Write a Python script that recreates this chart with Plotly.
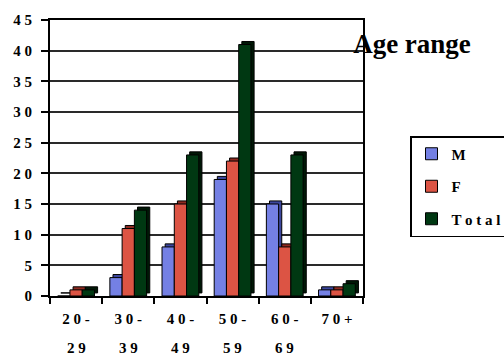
import plotly.graph_objects as go

# Respondents by age range
age_groups = ["20-29", "30-39", "40-49", "50-59", "60-69", "70+"]
label_line1 = ["2 0 -", "3 0 -", "4 0 -", "5 0 -", "6 0 -", "7 0 +"]
label_line2 = ["2 9", "3 9", "4 9", "5 9", "6 9", ""]

male = [0, 3, 8, 19, 15, 1]
female = [1, 11, 15, 22, 8, 1]
total = [1, 14, 23, 41, 23, 2]

y_tick_vals = [0, 5, 10, 15, 20, 25, 30, 35, 40, 45]
y_tick_text = ["0", "5", "1 0", "1 5", "2 0", "2 5", "3 0", "3 5", "4 0", "4 5"]

series = [
    ("M", male, "#7480E4", "#3C479E"),
    ("F", female, "#DC5444", "#8E2A20"),
    ("T o t a l", total, "#003812", "#001806"),
]

FONT = "Liberation Serif"
BAR_W = 0.235
OFFSETS = [-0.3525, -0.1175, 0.1175]
DEPTH_X = 0.06   # category units
DEPTH_Y = 0.5    # value units

fig = go.Figure()

# extruded back faces, drawn first so the front faces sit on top
for (name, vals, front, side), off in zip(series, OFFSETS):
    fig.add_trace(go.Bar(
        x=age_groups, y=vals, base=DEPTH_Y,
        offset=off + DEPTH_X, width=BAR_W,
        marker=dict(color=side, line=dict(color="black", width=1)),
        showlegend=False, hoverinfo="skip",
    ))

# front faces
for (name, vals, front, side), off in zip(series, OFFSETS):
    fig.add_trace(go.Bar(
        x=age_groups, y=vals, name=name, legendgroup=name,
        offset=off, width=BAR_W,
        marker=dict(color=front, line=dict(color="black", width=1)),
    ))

# second line of each age-range label
for g, txt in zip(age_groups, label_line2):
    fig.add_annotation(
        x=g, xref="x", y=0, yref="paper", yshift=-52,
        text=txt, showarrow=False, yanchor="middle",
        font=dict(family=FONT, size=15, color="black", weight="bold"),
    )

fig.update_layout(
    width=504, height=358,
    margin=dict(l=50, r=141, t=16, b=62),
    paper_bgcolor="white", plot_bgcolor="white",
    barmode="overlay",
    font=dict(family=FONT, size=15, color="black", weight="bold"),
    title=dict(
        text="Age range", xref="container", yref="container",
        x=412 / 504, y=1 - 44 / 358, xanchor="center", yanchor="middle",
        font=dict(family=FONT, size=27, color="black", weight="bold"),
    ),
    legend=dict(
        xref="container", yref="container",
        x=410 / 504, y=1 - 136 / 358, xanchor="left", yanchor="top",
        bordercolor="black", borderwidth=1.5, bgcolor="white",
        tracegroupgap=10,
        font=dict(family=FONT, size=15, color="black", weight="bold"),
    ),
    xaxis=dict(
        type="category", range=[-0.5, 5.5],
        tickmode="array", tickvals=age_groups, ticktext=label_line1,
        tickson="boundaries", ticks="outside", ticklen=6, tickwidth=2,
        tickcolor="black", ticklabelstandoff=8,
        tickfont=dict(family=FONT, size=15, color="black", weight="bold"),
        showline=True, linecolor="black", linewidth=2, mirror=True,
        showgrid=False, zeroline=False,
    ),
    yaxis=dict(
        range=[0, 45], tickmode="array", tickvals=y_tick_vals,
        ticktext=y_tick_text,
        ticks="outside", ticklen=7, tickwidth=2, tickcolor="black",
        ticklabelstandoff=6,
        tickfont=dict(family=FONT, size=15, color="black", weight="bold"),
        showline=True, linecolor="black", linewidth=2, mirror=True,
        showgrid=True, gridcolor="#2a2a2a", gridwidth=1.5,
        zeroline=False,
    ),
)

fig.write_html("out.html")
